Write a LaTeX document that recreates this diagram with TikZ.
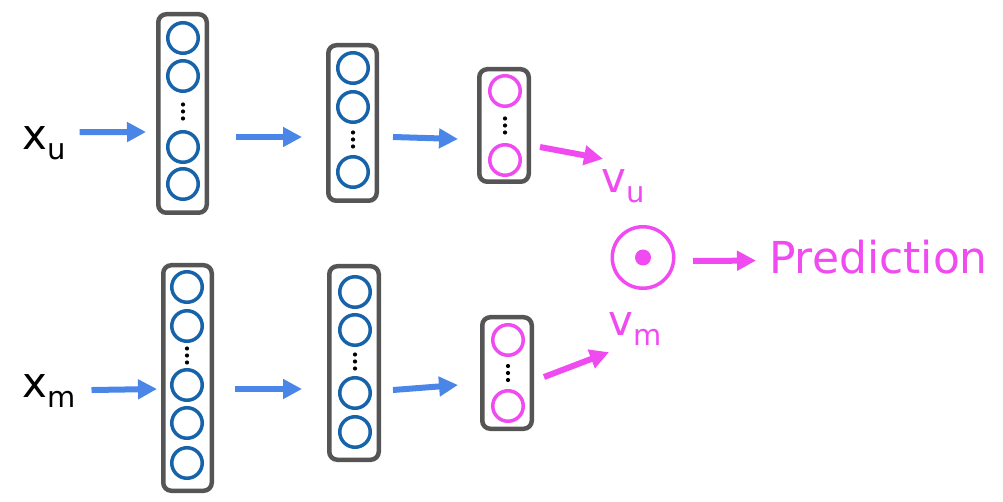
\documentclass[tikz,border=0pt]{standalone}
\usepackage{fontspec}
\setmainfont{DejaVu Sans}
\usetikzlibrary{arrows.meta,calc}
\definecolor{nodeblue}{HTML}{1763AA}
\definecolor{arrowblue}{HTML}{4A86E8}
\definecolor{vecpink}{HTML}{F04BF0}
\definecolor{boxgray}{HTML}{555555}

\begin{document}
\begin{tikzpicture}[x=1pt, y=-1pt,
  layer/.style = {draw=boxgray, fill=white, line width=4.5pt, rounded corners=8pt, inner sep=0pt, minimum width=48.5pt},
  unit/.style = {circle, draw=nodeblue, line width=3.5pt, minimum size=30.5pt, inner sep=0pt},
  outunit/.style = {unit, draw=vecpink},
  lbl/.style = {inner sep=0pt, anchor=base west, font=\fontsize{42}{48}\selectfont},
  bluearr/.style = {draw=arrowblue, line width=6pt, -{Triangle[length=19pt, width=19pt]}},
  pinkarr/.style = {bluearr, draw=vecpink},
  ]
  \useasboundingbox (0,0) rectangle (1003,502);

  \node[lbl] (xu) at (22,150) {x\raisebox{-10pt}{\fontsize{29}{30}\selectfont u}};
  \node[lbl] (xm) at (22,397) {x\raisebox{-10pt}{\fontsize{29}{30}\selectfont m}};

  \node[layer, minimum height=198.5pt] (l1u) at (182.5,113.5) {};
  \node[unit] (u1a) at (183,38) {};
  \node[unit] (u1b) at (183,76) {};
  \node[unit] (u1c) at (183,147) {};
  \node[unit] (u1d) at (183,184) {};

  \node[layer, minimum height=155.5pt] (l2u) at (352.5,123) {};
  \node[unit] (u2a) at (353,68) {};
  \node[unit] (u2b) at (353,107) {};
  \node[unit] (u2c) at (353,172) {};

  \node[layer, minimum width=49.5pt, minimum height=112.5pt] (l3u) at (504,125.5) {};
  \node[outunit] (u3a) at (505,91) {};
  \node[outunit] (u3b) at (505,160) {};

  \node[layer, minimum height=225.5pt] (l1m) at (187.5,378) {};
  \node[unit] (m1a) at (187,287) {};
  \node[unit] (m1b) at (187,326) {};
  \node[unit] (m1c) at (187,385) {};
  \node[unit] (m1d) at (187,423) {};
  \node[unit] (m1e) at (187,463) {};

  \node[layer, minimum width=49.5pt, minimum height=193.5pt] (l2m) at (354,363) {};
  \node[unit] (m2a) at (355,292) {};
  \node[unit] (m2b) at (355,330) {};
  \node[unit] (m2c) at (355,393) {};
  \node[unit] (m2d) at (355,432) {};

  \node[layer, minimum width=49.5pt, minimum height=111.5pt] (l3m) at (507,373) {};
  \node[outunit] (m3a) at (508,340) {};
  \node[outunit] (m3b) at (508,406) {};

  \fill ($(u1b)!.5!(u1c)$) ++(0,-7) circle (2.1) ++(0,7) circle (2.1) ++(0,7) circle (2.1);
  \fill ($(u2b)!.5!(u2c)$) ++(0,-7) circle (2.1) ++(0,7) circle (2.1) ++(0,7) circle (2.1);
  \fill ($(u3a)!.5!(u3b)$) ++(0,-7) circle (2.1) ++(0,7) circle (2.1) ++(0,7) circle (2.1);
  \fill ($(m1b)!.5!(m1c)$) ++(0,-7) circle (2.1) ++(0,7) circle (2.1) ++(0,7) circle (2.1);
  \fill ($(m2b)!.5!(m2c)$) ++(0,-7) circle (2.1) ++(0,7) circle (2.1) ++(0,7) circle (2.1);
  \fill ($(m3a)!.5!(m3b)$) ++(0,-7) circle (2.1) ++(0,7) circle (2.1) ++(0,7) circle (2.1);

  \node[lbl, text=vecpink] (vu) at (601.5,193) {v\raisebox{-10pt}{\fontsize{29}{30}\selectfont u}};
  \node[lbl, text=vecpink] (vm) at (608.5,335) {v\raisebox{-10pt}{\fontsize{29}{30}\selectfont m}};
  \node[circle, draw=vecpink, line width=3.5pt, minimum size=61.5pt, inner sep=0pt] (dot) at (643,257.5) {};
  \fill[vecpink] (dot.center) circle (8);
  \node[lbl, text=vecpink, font=\fontsize{44}{50}\selectfont] (pred) at (769,274) {Prediction};

  \draw[bluearr] ([shift={(14,-11.5)}]xu.east) -- ([shift={(-10,18.5)}]l1u.west);
  \draw[bluearr] ([shift={(27,23.5)}]l1u.east) -- ([shift={(-24,14)}]l2u.west);
  \draw[bluearr] ([shift={(14,14)}]l2u.east) -- ([shift={(-19,13.5)}]l3u.west);
  \draw[bluearr] ([shift={(16,-0.5)}]xm.east) -- ([shift={(-4,11)}]l1m.west);
  \draw[bluearr] ([shift={(21,11)}]l1m.east) -- ([shift={(-25,26)}]l2m.west);
  \draw[bluearr] ([shift={(12,27)}]l2m.east) -- ([shift={(-22,12)}]l3m.west);
  \draw[pinkarr] ([shift={(9,21.5)}]l3u.east) -- ([shift={(1.5,-11)}]vu.north west);
  \draw[pinkarr] ([shift={(10,4)}]l3m.east) -- ([shift={(0.5,7)}]vm.south west);
  \draw[pinkarr] ([shift={(17.5,3.5)}]dot.east) -- ([shift={(-13,3)}]pred.west);
\end{tikzpicture}
\end{document}
